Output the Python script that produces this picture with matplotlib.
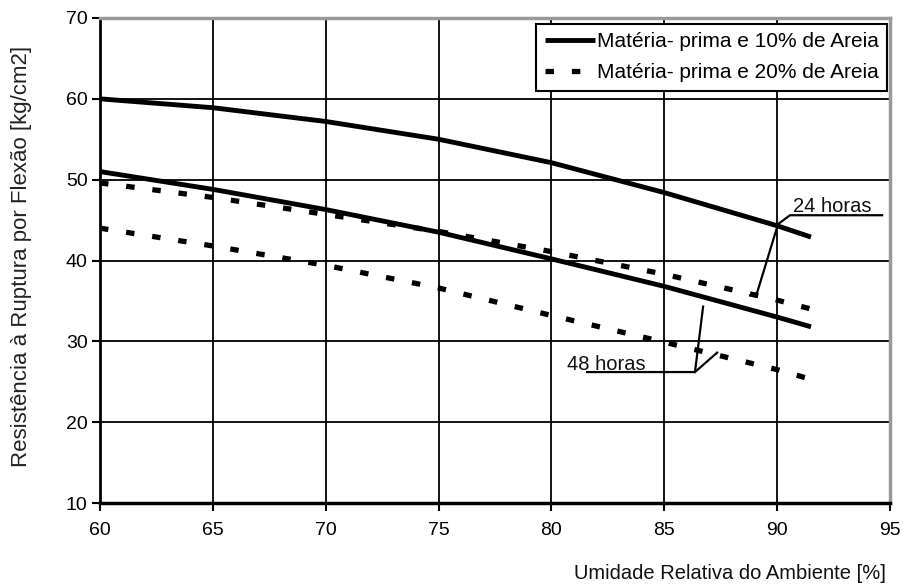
import matplotlib.pyplot as plt

plt.rcParams['font.family'] = ['Liberation Sans', 'DejaVu Sans']

# umidade relativa [%]
umidade = [60, 65, 70, 75, 80, 85, 90, 91.5]

# 10% de areia
areia10_24h = [60.0, 58.9, 57.2, 55.0, 52.1, 48.4, 44.3, 42.9]
areia10_48h = [51.0, 48.8, 46.3, 43.5, 40.2, 36.8, 33.0, 31.8]

# 20% de areia
areia20_24h = [49.6, 47.8, 45.7, 43.6, 41.1, 38.3, 35.1, 34.0]
areia20_48h = [44.0, 41.8, 39.4, 36.6, 33.2, 29.9, 26.5, 25.3]

# linhas de chamada (coordenadas de dados)
chamada_24_x = [94.65, 90.57, 90.04, 89.11, 88.8]
chamada_24_y = [45.6, 45.6, 44.5, 36.0, 35.7]
chamada_48_x = [81.58, 86.36, 86.72]
chamada_48_y = [26.2, 26.2, 34.3]
chamada_48b_x = [86.36, 87.34]
chamada_48b_y = [26.2, 28.6]

fig = plt.figure(figsize=(9.05, 5.85), dpi=100)
ax = fig.add_axes([100 / 905, 1 - 503 / 585, 790 / 905, 485 / 585])

tracejado = (0, (1.6, 3.4))
ax.plot(umidade, areia10_24h, color='black', lw=3.5, solid_capstyle='butt',
        label='Matéria- prima e 10% de Areia')
ax.plot(umidade, areia10_48h, color='black', lw=3.5, solid_capstyle='butt')
ax.plot(umidade, areia20_24h, color='black', lw=3.8, ls=tracejado,
        label='Matéria- prima e 20% de Areia')
ax.plot(umidade, areia20_48h, color='black', lw=3.8, ls=tracejado)

ax.plot(chamada_24_x, chamada_24_y, color='black', lw=1.6, clip_on=False)
ax.plot(chamada_48_x, chamada_48_y, color='black', lw=1.6)
ax.plot(chamada_48b_x, chamada_48b_y, color='black', lw=1.6)
ax.text(90.7, 46.0, '24 horas', fontsize=14.5, color='#111111')
ax.text(80.69, 26.5, '48 horas', fontsize=14.5, color='#111111')

ax.set_xlim(60, 95)
ax.set_ylim(10, 70)
ax.set_xticks(range(60, 96, 5))
ax.set_yticks(range(10, 71, 10))
ax.grid(True, color='black', lw=1.3)
ax.set_axisbelow(True)

for s in ['top', 'right']:
    ax.spines[s].set_color('#999999')
    ax.spines[s].set_linewidth(2.5)
ax.spines['left'].set_linewidth(2)
ax.spines['bottom'].set_linewidth(2.5)
ax.tick_params(axis='both', labelsize=14, colors='black', width=1.5, length=6)
ax.tick_params(axis='x', pad=8)
ax.tick_params(axis='y', pad=3)

fig.text(22 / 905, 1 - 256 / 585, 'Resistência à Ruptura por Flexão [kg/cm2]',
         fontsize=16, color='#222222', rotation=90, ha='center', va='center')
fig.text(886 / 905, 1 - 583 / 585, 'Umidade Relativa do Ambiente [%]',
         fontsize=14.5, color='#111111', ha='right', va='bottom')

leg = ax.legend(loc='upper right', bbox_to_anchor=(1.0, 0.995), fontsize=15,
                frameon=True, fancybox=False, framealpha=1,
                handlelength=2.4, handletextpad=0.1, borderpad=0.4,
                labelspacing=0.6, borderaxespad=0.15)
leg.get_frame().set_edgecolor('black')
leg.get_frame().set_linewidth(1.5)

fig.savefig('out.png', dpi=100)
